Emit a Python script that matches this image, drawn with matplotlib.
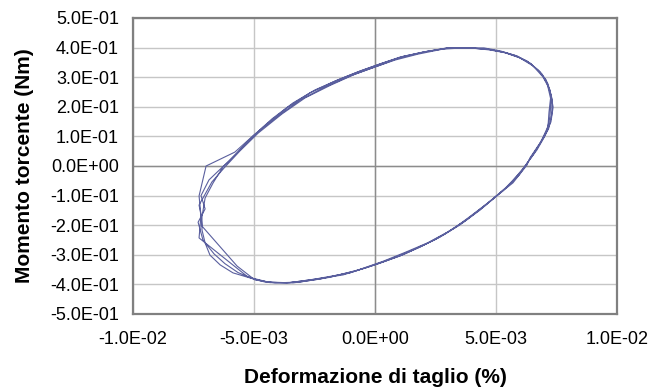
import numpy as np
import matplotlib
matplotlib.use("Agg")
import matplotlib.pyplot as plt
from matplotlib.ticker import FuncFormatter, MultipleLocator

plt.rcParams['font.family'] = ['Liberation Sans', 'DejaVu Sans']

# shear strain (%) and torque (Nm), consecutive cycles
cycle1_strain = [3.80e-3, 4.63e-3, 5.29e-3, 5.87e-3, 6.40e-3, 6.82e-3, 7.11e-3, 7.27e-3,
                 7.23e-3, 7.11e-3, 6.82e-3, 6.40e-3, 6.28e-3, 5.70e-3, 4.96e-3, 4.34e-3,
                 3.51e-3, 2.69e-3, 1.86e-3, 1.03e-3, 0.0, -1.32e-3, -2.69e-3, -3.64e-3,
                 -4.55e-3, -5.17e-3, -5.87e-3, -6.40e-3, -6.82e-3, -7.02e-3, -7.15e-3, -7.15e-3,
                 -7.02e-3, -6.69e-3, -6.28e-3, -5.70e-3, -5.04e-3, -4.26e-3, -3.39e-3, -2.48e-3,
                 -1.45e-3, -0.62e-3, 0.21e-3, 1.03e-3, 1.98e-3, 2.98e-3]
cycle1_torque = [0.399, 0.395, 0.385, 0.372, 0.348, 0.318, 0.280, 0.223,
                 0.166, 0.122, 0.078, 0.027, 0.003, -0.057, -0.105, -0.149,
                 -0.199, -0.240, -0.274, -0.304, -0.334, -0.368, -0.385, -0.395,
                 -0.392, -0.378, -0.361, -0.334, -0.301, -0.260, -0.216, -0.172,
                 -0.108, -0.057, -0.003, 0.044, 0.101, 0.159, 0.213, 0.257,
                 0.294, 0.321, 0.345, 0.368, 0.385, 0.399]

cycle2_strain = [3.93e-3, 4.75e-3, 5.41e-3, 5.99e-3, 6.53e-3, 6.94e-3, 7.23e-3, 7.36e-3,
                 7.27e-3, 7.02e-3, 6.69e-3, 6.20e-3, 5.58e-3, 4.88e-3, 4.13e-3, 3.31e-3,
                 2.48e-3, 1.53e-3, 0.62e-3, -0.41e-3, -1.86e-3, -3.10e-3, -4.13e-3, -4.96e-3,
                 -5.70e-3, -7.15e-3, -7.27e-3, -6.98e-3, -5.79e-3, -4.96e-3, -4.01e-3, -3.10e-3,
                 -2.07e-3, -1.03e-3, -0.12e-3, 0.83e-3, 1.78e-3, 2.81e-3]
cycle2_torque = [0.399, 0.392, 0.382, 0.365, 0.338, 0.301, 0.257, 0.199,
                 0.149, 0.101, 0.054, 0.000, -0.061, -0.111, -0.158, -0.208,
                 -0.249, -0.285, -0.315, -0.345, -0.376, -0.392, -0.395, -0.385,
                 -0.338, -0.203, -0.101, 0.000, 0.047, 0.108, 0.169, 0.223,
                 0.267, 0.304, 0.331, 0.358, 0.378, 0.395]

cycle3_strain = [3.68e-3, 4.50e-3, 5.17e-3, 5.74e-3, 6.28e-3, 6.74e-3, 7.07e-3, 7.27e-3,
                 7.19e-3, 7.15e-3, 6.90e-3, 6.53e-3, 6.03e-3, 5.37e-3, 4.63e-3, 3.84e-3,
                 3.02e-3, 2.19e-3, 1.24e-3, 0.33e-3, -0.83e-3, -2.27e-3, -3.39e-3, -4.42e-3,
                 -5.25e-3, -6.03e-3, -7.27e-3, -7.19e-3, -7.27e-3, -6.74e-3, -6.24e-3, -5.58e-3,
                 -4.83e-3, -3.84e-3, -2.89e-3, -1.86e-3, -0.83e-3, 0.12e-3, 1.03e-3, 2.07e-3,
                 3.10e-3]
cycle3_torque = [0.399, 0.399, 0.389, 0.375, 0.355, 0.324, 0.291, 0.240,
                 0.182, 0.135, 0.088, 0.037, -0.020, -0.076, -0.127, -0.178,
                 -0.222, -0.259, -0.292, -0.322, -0.355, -0.382, -0.395, -0.392,
                 -0.375, -0.324, -0.243, -0.166, -0.132, -0.054, -0.007, 0.051,
                 0.111, 0.176, 0.230, 0.272, 0.310, 0.338, 0.366, 0.386,
                 0.399]

cycle4_strain = [3.86e-3, 4.58e-3, 5.33e-3, 5.95e-3, 6.45e-3, 6.90e-3, 7.15e-3, 7.32e-3,
                 7.30e-3, 7.17e-3, 6.86e-3, 6.45e-3, 5.95e-3, 5.29e-3, 4.55e-3, 3.72e-3,
                 2.89e-3, 2.02e-3, 1.15e-3, 0.21e-3, -1.03e-3, -2.48e-3, -3.51e-3, -4.34e-3,
                 -5.04e-3, -5.66e-3, -6.20e-3, -6.65e-3, -7.11e-3, -7.31e-3, -7.02e-3, -7.19e-3,
                 -6.86e-3, -6.45e-3, -6.03e-3, -5.41e-3, -4.63e-3, -3.64e-3, -2.69e-3, -1.65e-3,
                 -0.70e-3, 0.25e-3, 1.20e-3, 2.15e-3, 3.02e-3, 3.80e-3]
cycle4_torque = [0.398, 0.396, 0.384, 0.367, 0.345, 0.311, 0.277, 0.226,
                 0.172, 0.125, 0.081, 0.030, -0.031, -0.084, -0.134, -0.186,
                 -0.230, -0.267, -0.300, -0.328, -0.361, -0.382, -0.394, -0.394,
                 -0.381, -0.360, -0.330, -0.297, -0.250, -0.190, -0.145, -0.100,
                 -0.047, -0.015, 0.017, 0.069, 0.131, 0.197, 0.247, 0.287,
                 0.318, 0.346, 0.371, 0.387, 0.399, 0.399]

strain = cycle1_strain + cycle2_strain + cycle3_strain + cycle4_strain
torque = cycle1_torque + cycle2_torque + cycle3_torque + cycle4_torque

fig = plt.figure(figsize=(6.64, 3.89), dpi=100)
ax = fig.add_axes([133 / 664, 1 - 314 / 389, 484 / 664, 296 / 389])

ax.set_xlim(-0.01, 0.01)
ax.set_ylim(-0.5, 0.5)
ax.xaxis.set_major_locator(MultipleLocator(0.005))
ax.yaxis.set_major_locator(MultipleLocator(0.1))
fmt = FuncFormatter(lambda v, p: f"{0.0 if abs(v) < 1e-12 else v:.1E}")
ax.xaxis.set_major_formatter(fmt)
ax.yaxis.set_major_formatter(fmt)

ax.grid(True, color='#c6c6c6', lw=1.0)
ax.set_axisbelow(True)
ax.axhline(0, color='#8c8c8c', lw=1.0, zorder=1)
ax.axvline(0, color='#8c8c8c', lw=1.0, zorder=1)

ax.plot(strain, torque, color='#5a5f9e', lw=0.8, zorder=3)

for s in ax.spines.values():
    s.set_color('#808080')
    s.set_linewidth(1.6)
ax.tick_params(length=0, labelsize=13, pad=10)
ax.tick_params(axis='x', pad=12)

ax.set_xlabel('Deformazione di taglio (%)', fontsize=15, fontweight='bold', va='center')
ax.xaxis.set_label_coords(0.5, -0.213)
ax.set_ylabel('Momento torcente (Nm)', fontsize=15, fontweight='bold', va='center', ha='center')
ax.yaxis.set_label_coords(-0.225, 0.5)

fig.savefig('out.png', dpi=100)
